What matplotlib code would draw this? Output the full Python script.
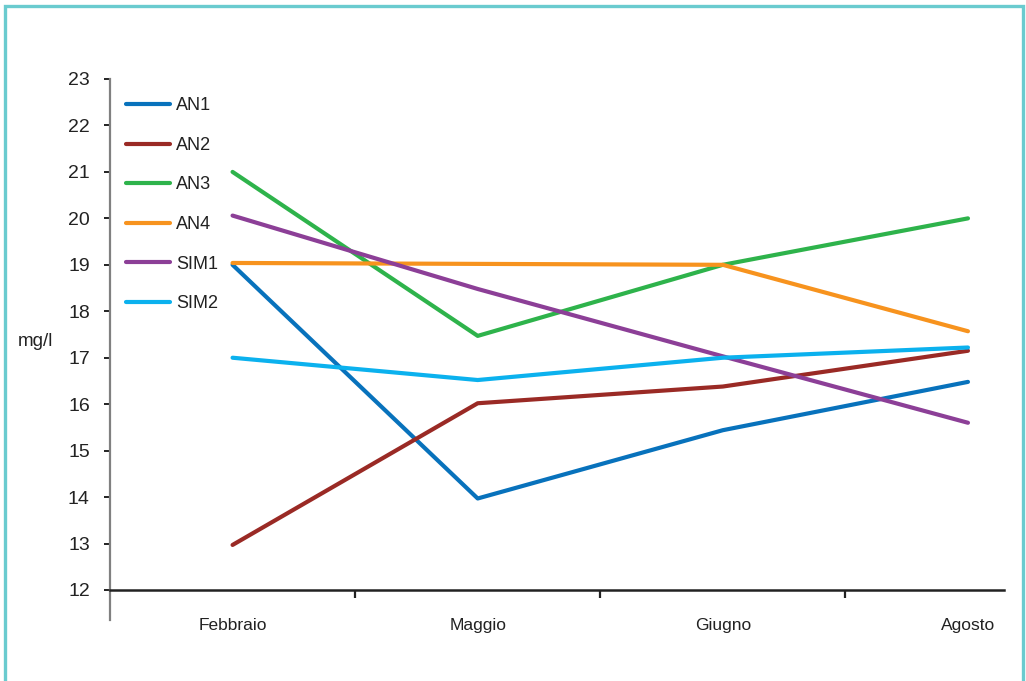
import matplotlib
matplotlib.use("Agg")
import matplotlib.pyplot as plt
from matplotlib.patches import Rectangle
from matplotlib.ticker import FixedLocator, NullFormatter

plt.rcParams['font.family'] = ['Liberation Sans', 'DejaVu Sans']

months = ["Febbraio", "Maggio", "Giugno", "Agosto"]
an1 = [19.0, 13.97, 15.44, 16.48]
an2 = [12.97, 16.02, 16.38, 17.15]
an3 = [21.0, 17.47, 19.0, 20.0]
an4 = [19.04, 19.02, 19.0, 17.57]
sim1 = [20.06, 18.48, 17.03, 15.6]
sim2 = [17.0, 16.52, 17.0, 17.22]

series = [("AN1", an1, "#0872BC"),
          ("AN2", an2, "#9A2A25"),
          ("AN3", an3, "#2EB34B"),
          ("AN4", an4, "#F7931E"),
          ("SIM1", sim1, "#8C3F97"),
          ("SIM2", sim2, "#0BB1EE")]

W, H = 1026, 681
fig = plt.figure(figsize=(W / 100, H / 100), dpi=100)
ax = fig.add_axes([110 / W, 1 - 590 / H, (1004 - 110) / W, (590 - 79) / H])

x = list(range(len(months)))
for name, vals, col in series:
    ax.plot(x, vals, color=col, lw=3.0, solid_capstyle='round', label=name, clip_on=False)

ax.set_xlim(-0.5, 3.147)
ax.set_ylim(12, 23)

# left spine runs a little below the category axis
ax.spines['left'].set_bounds(11.35, 23)
ax.spines['left'].set_color('#808080')
ax.spines['left'].set_linewidth(1.6)
ax.spines['bottom'].set_color('#222222')
ax.spines['bottom'].set_linewidth(1.8)
ax.spines['top'].set_visible(False)
ax.spines['right'].set_visible(False)

ax.set_yticks(range(12, 24))
ax.tick_params(axis='y', direction='out', length=4.5, width=1.4, color='#222222',
               pad=10, labelsize=14, labelcolor='#222222')

# boundaries between categories carry ticks, categories carry labels
ax.xaxis.set_major_locator(FixedLocator([0.5, 1.5, 2.5]))
ax.xaxis.set_major_formatter(NullFormatter())
ax.xaxis.set_minor_locator(FixedLocator(x))
ax.set_xticklabels(months, minor=True)
ax.tick_params(axis='x', which='major', direction='out', length=5.5, width=1.6, color='#222222')
ax.tick_params(axis='x', which='minor', length=0, pad=20, labelsize=12.5, labelcolor='#222222')

fig.text(35 / W, 1 - 341 / H, "mg/l", ha='center', va='center', fontsize=13.5, color='#222222')

leg = ax.legend(loc='upper left', bbox_to_anchor=(0.0, 0.996), frameon=False,
                handlelength=2.45, handletextpad=0.3, labelspacing=1.25,
                fontsize=13, borderaxespad=0.5)
for t in leg.get_texts():
    t.set_color('#222222')

fig.patches.append(Rectangle((5 / W, -0.05), (1023 - 5) / W, 1.05 - 6 / H,
                             transform=fig.transFigure, fill=False,
                             edgecolor='#6ACBCF', lw=2.4))

fig.savefig("out.png", dpi=100)
